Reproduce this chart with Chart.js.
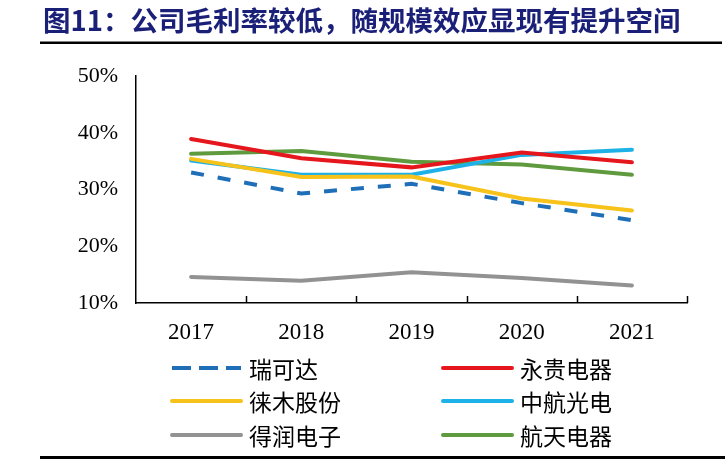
<!DOCTYPE html>
<html>
<head>
<meta charset="utf-8">
<script src="https://cdn.jsdelivr.net/npm/chart.js@4.4.0/dist/chart.umd.min.js"></script>
<style>
  html, body { margin: 0; padding: 0; background: #fff; }
  #wrap { width: 725px; height: 461px; position: relative; }
</style>
</head>
<body>
<div id="wrap"><canvas id="myChart"></canvas></div>
<script>
// données (marge brute, %)
const years = ['2017', '2018', '2019', '2020', '2021'];
const ruikeda = [33.0, 29.3, 31.0, 27.6, 24.6];
const yonggui = [38.9, 35.5, 33.9, 36.5, 34.8];
const laimu = [35.4, 32.2, 32.3, 28.4, 26.3];
const zhonghang = [35.1, 32.6, 32.6, 36.1, 37.0];
const derun = [14.6, 13.9, 15.4, 14.4, 13.1];
const hangtian = [36.3, 36.8, 34.9, 34.4, 32.6];
const yTicks = [10, 20, 30, 40, 50];

const title = '图11：公司毛利率较低，随规模效应显现有提升空间';
const cjk = '"Noto Sans CJK SC", sans-serif';
const serif = '"Liberation Serif", "DejaVu Serif", serif';

function serie(label, data, color, dash) {
    return {
        label: label,
        data: data,
        borderColor: color,
        backgroundColor: color,
        borderWidth: 4,
        borderDash: dash || [],
        borderCapStyle: dash ? 'butt' : 'round',
        pointRadius: 0,
        tension: 0,
        fill: false
    };
}

// légende sur deux colonnes + titre + filets
const decor = {
    id: 'decor',
    afterDraw(chart) {
        const ctx = chart.ctx;
        const area = chart.chartArea;
        ctx.save();

        // titre
        ctx.fillStyle = '#1a1f77';
        ctx.font = 'bold 27.5px ' + cjk;
        ctx.textBaseline = 'middle';
        ctx.textAlign = 'left';
        ctx.fillText(title, 43, 21);
        ctx.fillStyle = '#000';
        ctx.fillRect(40, 41.5, 682, 2.5);
        ctx.fillRect(40, 456, 685, 3);

        // petits traits vers l'intérieur sur l'axe x
        ctx.strokeStyle = '#000';
        ctx.lineWidth = 1.5;
        const step = (area.right - area.left) / years.length;
        for (let i = 1; i <= years.length; i++) {
            const x = Math.round(area.left + i * step) + 0.5;
            ctx.beginPath();
            ctx.moveTo(x, area.bottom);
            ctx.lineTo(x, area.bottom - 7);
            ctx.stroke();
        }

        // légende
        const cols = [172, 443];
        const rows = [368, 401, 435];
        chart.data.datasets.forEach(function (ds, i) {
            const x = cols[i % 2];
            const y = rows[Math.floor(i / 2)];
            const dashed = ds.borderDash.length > 0;
            ctx.strokeStyle = ds.borderColor;
            ctx.lineWidth = 4;
            ctx.lineCap = dashed ? 'butt' : 'round';
            ctx.setLineDash(dashed ? [19, 8] : []);
            ctx.beginPath();
            ctx.moveTo(x, y);
            ctx.lineTo(x + 69, y);
            ctx.stroke();
            ctx.setLineDash([]);
            ctx.fillStyle = '#000';
            ctx.font = '23px ' + cjk;
            ctx.textBaseline = 'middle';
            ctx.fillText(ds.label, x + 77, y + 1);
        });
        ctx.restore();
    }
};

new Chart(document.getElementById('myChart'), {
    type: 'line',
    data: {
        labels: years,
        datasets: [
            serie('瑞可达', ruikeda, '#1f6fb8', [13, 14]),
            serie('永贵电器', yonggui, '#e5171c'),
            serie('徕木股份', laimu, '#f7c21a'),
            serie('中航光电', zhonghang, '#1eb1e7'),
            serie('得润电子', derun, '#929292'),
            serie('航天电器', hangtian, '#5f9a3e')
        ]
    },
    options: {
        responsive: true,
        maintainAspectRatio: false,
        animation: false,
        layout: { padding: { top: 76, left: 0, right: 38, bottom: 118 } },
        plugins: {
            legend: { display: false },
            tooltip: { enabled: false }
        },
        scales: {
            x: {
                offset: true,
                afterFit: (s) => { s.height = 40; },
                grid: { display: true, drawOnChartArea: false, drawTicks: false, color: 'rgba(0,0,0,0)' },
                border: { display: true, color: '#000', width: 1.5 },
                ticks: { color: '#000', padding: 16, font: { family: serif, size: 23 } }
            },
            y: {
                min: 10,
                max: 50,
                afterFit: (s) => { s.width = 136; },
                afterBuildTicks: (s) => { s.ticks = yTicks.map(v => ({ value: v })); },
                grid: { drawOnChartArea: false, drawTicks: false },
                border: { display: true, color: '#000', width: 1.5 },
                ticks: {
                    color: '#000',
                    padding: 18,
                    font: { family: serif, size: 22 },
                    callback: (v) => v + '%'
                }
            }
        }
    },
    plugins: [decor]
});
</script>
</body>
</html>
